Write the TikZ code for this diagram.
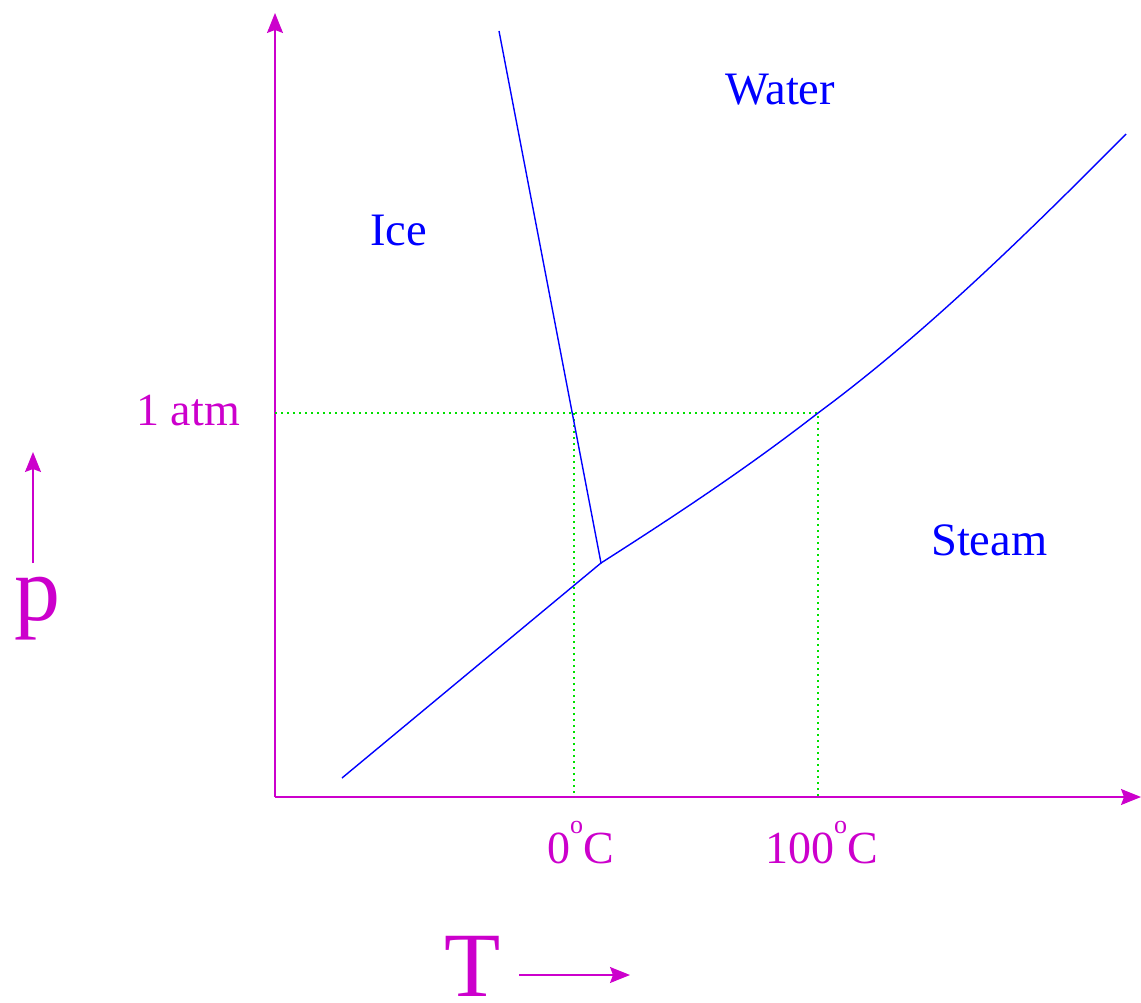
\documentclass[tikz,border=0pt]{standalone}
\usepackage{fontspec}
\setmainfont{Liberation Serif}
\usetikzlibrary{arrows.meta}
\definecolor{axiscol}{RGB}{204,0,204}
\definecolor{phasecol}{RGB}{0,0,255}
\definecolor{guidecol}{RGB}{0,225,0}
\newcommand{\degsup}{\raisebox{30pt}{\fontsize{26}{26}\selectfont o}}
\tikzset{
  axisline/.style={draw=axiscol,line width=1.3pt,
    -{Stealth[length=20pt,width=16pt,inset=3pt]}},
  phaseline/.style={draw=phasecol,line width=1.4pt},
  guideline/.style={draw=guidecol,line width=1.4pt,dash pattern=on 2pt off 4pt},
  axislabel/.style={text=axiscol,font=\fontsize{46}{54}\selectfont,inner sep=0pt},
  biglabel/.style={text=axiscol,font=\fontsize{92}{100}\selectfont,inner sep=0pt},
  phaselabel/.style={text=phasecol,font=\fontsize{46.5}{54}\selectfont,inner sep=0pt,anchor=base west}
}
\begin{document}
\begin{tikzpicture}[x=1pt,y=-1pt]
  \useasboundingbox (0,0) rectangle (1141,1003);
  % axes
  \coordinate (origin) at (275,797);
  \coordinate (ptop) at (275,13);
  \coordinate (tend) at (1141,797);
  \draw[axisline] (origin) -- (ptop);
  \draw[axisline] (origin) -- (tend);

  % 1 atm and the two temperatures
  \coordinate (atm) at (275,413);
  \coordinate (boil) at (818,413);
  \coordinate (melt) at (574,413);
  \draw[guideline] (atm) -- (boil) -- (boil |- origin);
  \draw[guideline] (melt) -- (melt |- origin);

  % phase boundaries
  \coordinate (triple) at (601,563);
  \coordinate (fusetop) at (499,31);
  \coordinate (sublow) at (342,778);
  \coordinate (vaptop) at (1126,134);
  \draw[phaseline] (fusetop) -- (triple) -- (sublow);
  \draw[phaseline] (triple) .. controls (673,517) and (746,469) .. (boil)
    .. controls (921,337) and (1023,238) .. (vaptop);

  % regions
  \node[phaselabel] (ice) at (370,246) {Ice};
  \node[phaselabel] (water) at (725,105) {Water};
  \node[phaselabel] (steam) at (931,555) {Steam};

  % axis labels
  \node[axislabel,anchor=base east] (atmlbl) at (240,425) {1 atm};
  \node[axislabel,anchor=base west] (zero) at (547,863) {0\degsup C};
  \node[axislabel,anchor=base west] (hundred) at (765,863) {100\degsup C};
  \node[biglabel,anchor=base west] (plbl) at (14,620) {p};
  \node[biglabel,anchor=base west] (tlbl) at (444,996) {T};
  \coordinate (pfoot) at (33,563);
  \coordinate (phead) at (33,452);
  \coordinate (tfoot) at (519,975);
  \coordinate (thead) at (630,975);
  \draw[axisline] (pfoot) -- (phead);
  \draw[axisline] (tfoot) -- (thead);
\end{tikzpicture}
\end{document}
